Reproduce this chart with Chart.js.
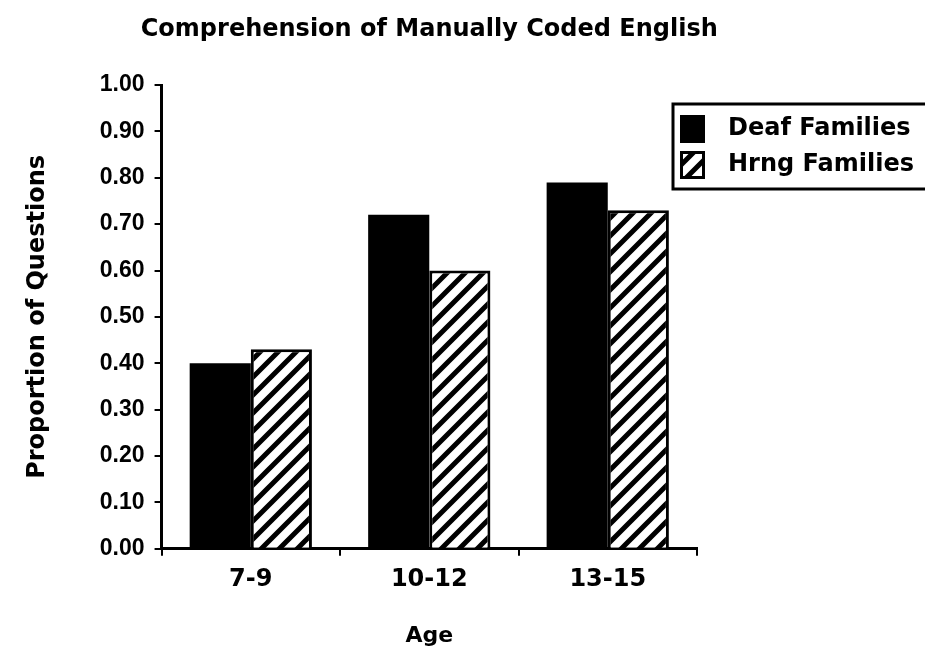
<!DOCTYPE html>
<html lang="en">
<head>
    <meta charset="UTF-8">
    <title>Comprehension of Manually Coded English</title>
    <script src="https://cdn.jsdelivr.net/npm/chart.js"></script>
    <style>
        body { margin: 0; background-color: #fff; }
        canvas { display: block; }
    </style>
</head>
<body>
    <canvas id="mceChart" width="925" height="653"></canvas>

    <script>
        // --- Data ---
        const chartTitle = 'Comprehension of Manually Coded English';
        const ageGroups = ['7-9', '10-12', '13-15'];
        const seriesNames = ['Deaf Families', 'Hrng Families'];
        const deafFamilies = [0.40, 0.72, 0.79];
        const hrngFamilies = [0.43, 0.60, 0.73];

        // diagonal hatch used for the hearing families bars
        function makeHatch() {
            const size = 18;
            const c = document.createElement('canvas');
            c.width = size;
            c.height = size;
            const g = c.getContext('2d');
            g.fillStyle = '#fff';
            g.fillRect(0, 0, size, size);
            g.strokeStyle = '#000';
            g.lineWidth = 5;
            g.beginPath();
            g.moveTo(-2, size + 2); g.lineTo(size + 2, -2);
            g.moveTo(-size / 2, size / 2); g.lineTo(size / 2, -size / 2);
            g.moveTo(size / 2, size * 1.5); g.lineTo(size * 1.5, size / 2);
            g.stroke();
            return g.createPattern(c, 'repeat');
        }

        const ctx = document.getElementById('mceChart').getContext('2d');
        const hatch = makeHatch();

        // title centred over the plot and a boxed legend at the top right
        const framePlugin = {
            id: 'frame',
            afterDraw(chart) {
                const c = chart.ctx;
                const area = chart.chartArea;
                c.save();
                c.fillStyle = '#000';
                c.font = 'bold 24px "DejaVu Sans"';
                c.textAlign = 'center';
                c.textBaseline = 'middle';
                c.fillText(chartTitle, (area.left + area.right) / 2, 30);

                // legend box (runs off the right edge like the original)
                c.strokeStyle = '#000';
                c.lineWidth = 3;
                c.strokeRect(673, 104, 280, 85);
                c.textAlign = 'left';
                chart.data.datasets.forEach((ds, i) => {
                    const y = 115 + i * 36;
                    c.fillStyle = ds.backgroundColor;
                    c.fillRect(680, y, 25, 28);
                    if (ds.borderWidth) {
                        c.lineWidth = 3;
                        c.strokeRect(681.5, y + 1.5, 22, 25);
                    }
                    c.fillStyle = '#000';
                    c.fillText(ds.label, 728, y + 14);
                });
                c.restore();
            }
        };

        Chart.defaults.font.family = '"DejaVu Sans"';
        Chart.defaults.color = '#000';

        new Chart(ctx, {
            type: 'bar',
            data: {
                labels: ageGroups,
                datasets: [
                    {
                        label: seriesNames[0],
                        data: deafFamilies,
                        backgroundColor: '#000',
                        borderWidth: 0
                    },
                    {
                        label: seriesNames[1],
                        data: hrngFamilies,
                        backgroundColor: hatch,
                        borderColor: '#000',
                        borderWidth: 3
                    }
                ]
            },
            options: {
                responsive: false,
                animation: false,
                categoryPercentage: 0.685,
                barPercentage: 1.0,
                layout: { padding: { left: 10, right: 228, top: 85, bottom: 0 } },
                plugins: {
                    legend: { display: false },
                    tooltip: { enabled: false }
                },
                scales: {
                    x: {
                        grid: { drawOnChartArea: false, tickLength: 7, color: '#000', lineWidth: 2 },
                        border: { color: '#000', width: 3 },
                        ticks: {
                            color: '#000',
                            padding: 10,
                            font: { family: '"DejaVu Sans"', weight: 'bold', size: 24 }
                        },
                        title: {
                            display: true,
                            text: 'Age',
                            color: '#000',
                            font: { family: '"DejaVu Sans"', weight: 'bold', size: 22 },
                            padding: { top: 18, bottom: 4 }
                        }
                    },
                    y: {
                        min: 0,
                        max: 1,
                        grid: { drawOnChartArea: false, tickLength: 7, color: '#000', lineWidth: 2 },
                        border: { color: '#000', width: 3 },
                        ticks: {
                            stepSize: 0.1,
                            color: '#000',
                            padding: 10,
                            callback: v => Number(v).toFixed(2),
                            font: { family: '"Liberation Sans"', weight: 'bold', size: 23 }
                        },
                        title: {
                            display: true,
                            text: 'Proportion of Questions',
                            color: '#000',
                            font: { family: '"DejaVu Sans"', weight: 'bold', size: 24 },
                            padding: { top: 13, bottom: 38 }
                        }
                    }
                }
            },
            plugins: [framePlugin]
        });
    </script>
</body>
</html>
